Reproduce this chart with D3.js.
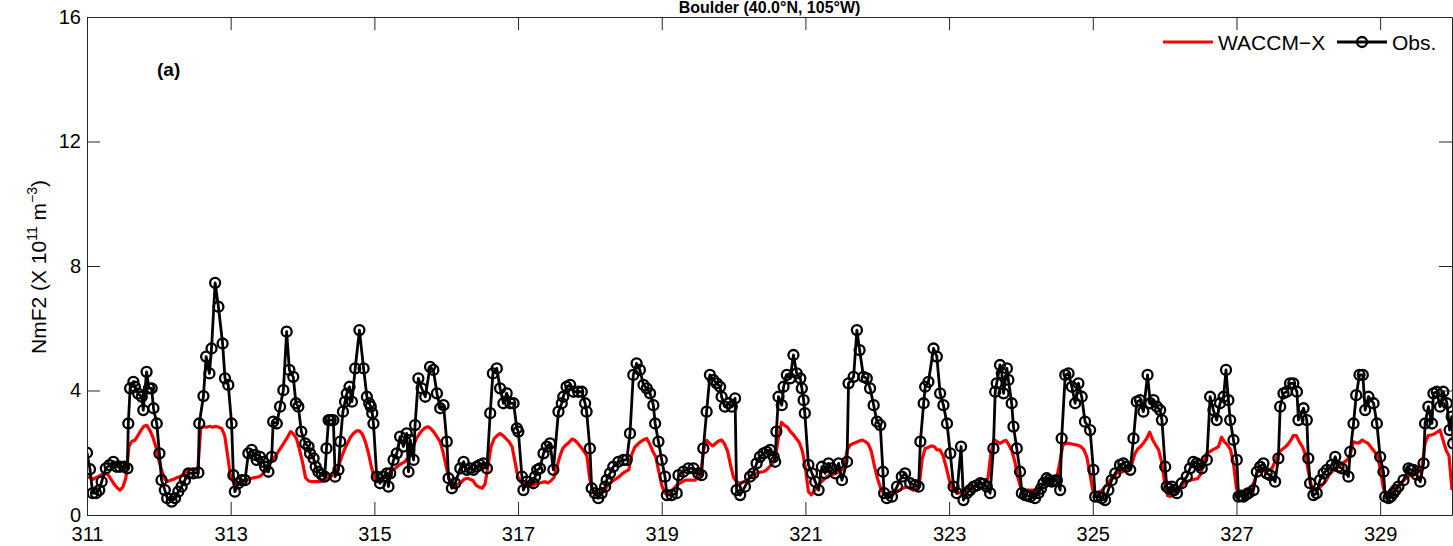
<!DOCTYPE html>
<html><head><meta charset="utf-8">
<script src="https://cdn.jsdelivr.net/npm/d3@7"></script>
<style>
html,body{margin:0;padding:0;background:#fff;}
svg{display:block;}
text{font-family:"Liberation Sans",Arial,Helvetica,sans-serif;}
</style></head><body>
<svg id="chart" width="1453" height="546"></svg>
<script>
// ---------------- DATA ----------------
const chartTitle = "Boulder (40.0°N, 105°W)";
const panelLabel = "(a)";
const seriesNames = ["WACCM\u2212X", "Obs."];
const xDomain = [311, 330];
const yDomain = [0, 16];
const xTicks = [311, 313, 315, 317, 319, 321, 323, 325, 327, 329];
const yTicks = [0, 4, 8, 12, 16];

// WACCM-X NmF2 (x10^11 m^-3), hourly from day 311 00 UT
const modelNmF2 = [
  1.23,1.2,1.15,1.2,1.25,1.3,1.33,1.3,1.15,1.0,0.88,0.8,0.9,1.2,2.2,2.37,2.4,2.55,2.72,2.85,2.88,2.72,2.5,2.2,
  1.75,1.42,1.15,1.08,1.12,1.15,1.2,1.23,1.3,1.38,1.45,1.45,1.45,1.45,2.8,2.84,2.82,2.85,2.82,2.85,2.82,2.78,2.55,1.9,
  1.2,1.05,1.02,1.05,1.08,1.12,1.15,1.18,1.2,1.22,1.25,1.35,1.5,1.65,1.77,1.9,2.05,2.2,2.35,2.5,2.68,2.6,2.45,2.1,
  1.7,1.2,1.1,1.07,1.07,1.07,1.07,1.1,1.15,1.2,1.28,1.33,1.55,1.85,2.1,2.3,2.5,2.62,2.7,2.7,2.6,2.35,2.0,1.55,
  1.2,1.07,1.1,1.2,1.28,1.35,1.45,1.5,1.58,1.65,1.7,1.8,1.9,2.2,2.45,2.6,2.72,2.8,2.84,2.76,2.65,2.5,2.35,2.0,
  1.55,1.15,1.0,0.96,1.0,1.05,1.15,1.18,1.15,1.1,0.95,0.9,0.86,1.0,1.6,2.2,2.45,2.55,2.62,2.55,2.45,2.35,2.2,1.7,
  1.2,1.05,1.0,0.97,0.95,0.95,1.0,1.02,1.05,1.07,1.03,1.1,1.2,1.55,1.9,2.15,2.25,2.33,2.44,2.4,2.3,2.18,2.05,1.9,
  1.12,0.8,0.65,0.6,0.68,0.82,0.95,1.05,1.12,1.18,1.25,1.34,1.4,1.45,1.95,2.18,2.28,2.36,2.42,2.46,2.28,2.05,1.87,1.4,
  0.95,0.7,0.7,0.76,0.85,0.95,1.02,1.07,1.12,1.12,1.12,1.12,1.18,1.3,2.1,2.4,2.3,2.22,2.3,2.38,2.41,2.28,2.05,1.6,
  1.2,1.07,1.02,1.05,1.1,1.16,1.25,1.32,1.36,1.38,1.39,1.45,1.55,1.65,1.87,2.5,2.98,2.88,2.82,2.68,2.58,2.45,2.32,2.05,
  1.5,0.75,0.65,0.78,0.92,1.04,1.13,1.22,1.27,1.3,1.33,1.38,1.45,1.6,2.1,2.25,2.3,2.34,2.38,2.41,2.36,2.28,2.05,1.6,
  1.2,0.9,0.7,0.62,0.6,0.68,0.73,0.78,0.83,0.88,0.9,0.85,0.8,0.86,0.95,1.8,2.14,2.17,2.22,2.2,2.09,2.09,1.9,1.55,
  1.15,0.85,0.75,0.7,0.73,0.78,0.82,0.86,0.91,0.96,1.0,1.02,1.02,1.2,2.0,2.42,2.36,2.3,2.36,2.4,2.25,2.05,1.7,1.2,
  0.85,0.8,0.8,0.8,0.8,0.8,0.82,0.95,1.05,1.1,1.15,1.18,1.22,1.7,2.25,2.3,2.3,2.28,2.26,2.24,2.2,2.1,1.87,1.35,
  0.8,0.7,0.72,0.78,0.9,1.02,1.15,1.25,1.34,1.36,1.39,1.45,1.52,1.62,1.95,2.12,2.2,2.32,2.46,2.66,2.42,2.25,2.09,1.7,
  1.05,0.62,0.6,0.65,0.7,0.85,0.96,1.05,1.1,1.13,1.15,1.17,1.3,1.65,1.98,2.03,2.09,2.14,2.2,2.5,2.35,2.25,2.1,1.65,
  0.85,0.66,0.66,0.7,0.78,0.87,1.1,1.38,1.45,1.42,1.39,1.45,1.52,1.75,1.98,2.09,2.16,2.25,2.38,2.55,2.55,2.35,2.2,1.95,
  1.4,0.95,0.82,0.83,0.9,1.0,1.12,1.3,1.4,1.48,1.55,1.63,1.7,1.77,1.93,2.35,2.32,2.32,2.41,2.35,2.3,2.17,2.05,1.93,
  1.5,0.9,0.62,0.68,0.75,0.85,0.95,1.03,1.12,1.2,1.27,1.28,1.3,1.4,1.55,2.3,2.55,2.57,2.6,2.66,2.73,2.41,2.09,1.9,
  0.8
];

// Observed NmF2: [hours since day 311 00 UT, NmF2 (x10^11 m^-3)]
const obsSamples = [
  [0,2.0],[1.0,1.47],[1.9,0.7],[3.0,0.7],[4.1,0.8],[4.9,1.07],[6.3,1.5],[7.5,1.6],[8.8,1.71],[9.9,1.55],[11,1.55],[12.4,1.55],[13.5,1.5],[13.8,2.94],[14.4,4.07],[15.5,4.28],[16,4.12],[17.1,3.9],[18.3,3.8],[18.8,3.37],[19.9,4.6],[20.7,4.07],[21.6,4.07],[22.2,3.43],[23.3,2.94],
  [24.2,1.98],[24.9,1.12],[26,0.8],[26.8,0.54],[28.3,0.43],[29.4,0.54],[30.5,0.75],[31.6,0.91],[32.7,1.12],[33.9,1.34],[35.5,1.34],[37.2,1.36],[37.5,2.94],[38.9,3.82],[39.8,5.09],[40.9,4.55],[41.6,5.35],[42.8,7.46],[43.9,6.69],[45.3,5.51],[46.1,4.39],[47.2,4.18],
  [48.3,2.94],[48.9,1.28],[49.4,0.75],[50.6,1.02],[51.7,1.12],[52.8,1.12],[53.9,1.98],[55,2.09],[56.1,1.93],[56.7,1.77],[57.8,1.87],[58.9,1.71],[59.5,1.55],[60.6,1.39],[61.7,1.87],[62.2,3.0],[63.4,2.94],[64.5,3.48],[65.6,4.01],[66.7,5.89],[67.6,4.66],[68.9,4.44],[69.8,3.59],[70.6,3.48],[71.6,2.68],
  [72.9,2.3],[74,2.2],[74.5,1.98],[75.7,1.82],[76.4,1.55],[77.3,1.39],[78.4,1.3],[79.4,1.23],[80.0,2.14],[80.7,3.05],[81.4,3.05],[82.3,3.05],[82.9,1.23],[84,1.45],[84.6,2.36],[85.5,3.32],[86.2,3.64],[86.8,3.9],[87.7,4.12],[88.5,3.64],[89.6,4.71],[91,5.94],[92.4,4.71],[93.5,3.8],[94.3,3.59],[94.8,3.48],[95.3,3.27],[95.7,2.94],
  [96.8,1.23],[97.9,1.02],[99,1.23],[100.2,1.34],[100.7,0.91],[101.3,1.34],[102.4,1.77],[103.5,1.98],[104.6,2.52],[105.7,2.2],[106.8,2.62],[107.4,1.39],[108,2.41],[109.1,1.77],[109.6,2.89],[110.7,4.39],[111.8,4.07],[113,3.8],[114.6,4.76],[115.7,4.66],[116.9,3.91],[118,3.43],[119.1,3.53],
  [120.2,2.36],[120.8,1.18],[121.9,0.86],[123,1.02],[124.7,1.5],[125.8,1.71],[126.9,1.45],[128,1.5],[129.1,1.45],[130.2,1.55],[131.3,1.61],[132.4,1.66],[133.6,1.5],[134.7,3.27],[135.6,4.55],[136.9,4.71],[138,4.07],[139.1,3.59],[140.2,3.91],[141.4,3.59],[142.5,3.59],[143.6,2.78],
  [144.1,2.68],[145.3,1.23],[145.8,0.8],[146.9,1.07],[149.1,1.02],[149.7,1.23],[150.4,1.45],[151.3,1.5],[152.5,1.98],[153.6,2.2],[154.7,2.3],[155.8,1.45],[157.5,3.32],[158.6,3.59],[159.1,3.8],[160.2,4.12],[161.4,4.18],[162.5,3.96],[164.1,3.96],[165.3,3.96],[166.4,3.59],[166.9,3.32],
  [168,2.14],[168.6,0.86],[169.7,0.7],[170.8,0.54],[171.9,0.7],[173.1,0.91],[173.6,1.12],[174.7,1.34],[175.8,1.55],[177.5,1.71],[179.2,1.77],[180.3,1.77],[181.4,2.62],[182.5,4.5],[183.6,4.87],[184.7,4.66],[185.9,4.18],[187,4.07],[188.1,3.91],[189.2,3.53],[189.8,2.94],[190.9,2.36],
  [192,1.77],[193.1,1.23],[193.7,0.64],[195.3,0.64],[197,0.7],[197.6,1.28],[199.2,1.39],[200.9,1.5],[202.6,1.5],[204.2,1.34],[205.3,1.28],[205.9,2.14],[207,3.32],[208.1,4.5],[209.2,4.34],[210.4,4.23],[211.5,4.12],[212,3.8],[213.1,3.48],[214.3,3.59],[215.4,3.48],[216.5,3.75],[217,0.8],
  [218.2,0.64],[219.8,0.91],[221.5,1.23],[222.6,1.34],[223.7,1.66],[224.8,1.87],[226,1.98],[227.1,2.03],[228.2,2.09],[229.4,1.87],[229.9,1.71],[230.3,2.68],[231,3.8],[232.1,3.53],[232.7,4.12],[233.8,4.5],[234.9,4.39],[236,5.14],[237.1,4.55],[238.3,4.39],[238.8,4.07],[239.4,3.69],[239.8,3.27],
  [241,1.61],[242.2,1.34],[243.3,1.07],[244.4,0.8],[245.5,1.55],[246.6,1.34],[247.7,1.66],[248.8,1.5],[250,1.34],[251.1,1.66],[252.2,1.12],[253.9,1.71],[254.4,4.23],[256.1,4.44],[257.2,5.94],[258.1,5.3],[259.4,4.44],[260.5,4.39],[261.6,4.07],[262.8,3.53],[263.9,3.0],
  [265,2.89],[265.9,1.39],[266.3,0.7],[267.2,0.54],[268.9,0.59],[270.6,0.91],[272.2,1.23],[273.3,1.34],[275,1.02],[276.7,0.96],[277.8,0.91],[278.4,2.36],[279.5,3.59],[280,4.12],[281.1,4.28],[282.8,5.35],[283.9,5.09],[285,3.91],[286.1,3.53],[287.3,2.94],
  [288.4,1.98],[289.5,0.91],[290.6,0.7],[292,2.2],[292.8,0.48],[293.9,0.7],[295,0.8],[296.2,0.91],[297.3,0.95],[298.4,1.02],[299.5,1.0],[300.6,0.91],[301.7,0.7],[302.8,2.14],[303.4,3.96],[303.9,4.23],[305,4.82],[305.6,4.55],[306.2,3.91],[307.3,4.71],[307.8,4.34],[308.9,3.59],[309.5,2.84],[310.6,2.14],[311.7,1.39],
  [312.3,0.7],[313.4,0.64],[314.2,0.62],[315.1,0.59],[316.7,0.54],[317.8,0.7],[318.7,0.85],[319.5,1.02],[320.6,1.18],[321.4,1.12],[322.3,1.07],[323.2,1.1],[324,1.12],[325.1,0.8],[325.6,2.46],[326.8,4.5],[327.9,4.55],[329,4.12],[330.1,3.59],[331.2,4.23],[332.3,3.8],[333.4,3.0],[335.1,2.73],
  [336.2,1.45],[336.8,0.59],[337.9,0.59],[339,0.54],[340.1,0.48],[341.2,0.8],[342.3,1.12],[343.5,1.34],[345.1,1.61],[346.2,1.66],[347.3,1.55],[348.5,1.45],[349.6,2.46],[350.7,3.64],[351.8,3.69],[352.9,3.32],[354.3,4.5],[355.2,3.59],[356.3,3.69],[357.4,3.48],[358.5,3.37],[359.1,3.05],
  [360.2,1.55],[360.7,0.91],[361.5,0.85],[362.4,0.91],[363.2,0.8],[364.1,0.7],[365.7,1.02],[367.4,1.23],[368.5,1.5],[369.6,1.71],[370.7,1.66],[371.5,1.6],[372.4,1.5],[374.1,1.77],[375.2,3.8],[376.3,3.37],[377.4,3.05],[378.5,3.59],[379.7,3.8],[380.5,4.66],[381.3,3.69],[381.9,3.05],[383,2.41],
  [384.1,1.77],[384.7,0.59],[385.5,0.62],[386.3,0.59],[387.2,0.65],[388,0.7],[389.7,0.8],[390.8,1.39],[391.9,1.55],[393,1.66],[394.1,1.34],[395.2,1.28],[396.9,1.07],[398,1.82],[398.6,3.48],[399.7,3.91],[400.8,3.96],[401.9,4.23],[403,4.23],[404.2,3.96],[404.7,3.05],[406.4,3.43],[407.5,3.05],
  [408,1.82],[408.6,1.02],[409.7,0.64],[410.8,0.7],[411.9,1.12],[413.1,1.34],[414.2,1.45],[415.8,1.61],[417,1.87],[418.1,1.55],[419.2,1.5],[421.4,1.23],[422,2.03],[423.1,2.94],[424,3.85],[425.1,4.5],[426.2,4.5],[427,3.37],[428.1,3.8],[429.8,3.59],[430.9,2.94],
  [432,1.87],[433.1,1.39],[433.7,0.59],[434.8,0.54],[435.6,0.6],[436.4,0.7],[437.2,0.8],[438.1,0.91],[439.8,1.12],[441.5,1.5],[442.3,1.45],[443.1,1.45],[444.2,1.3],[445.4,1.07],[446.5,1.66],[447,2.94],[448.1,3.48],[449.3,2.94],[449.8,3.91],[450.9,3.96],[452,3.48],[453.1,3.96],[454.3,3.59],[455.2,2.73],[455.9,3.16],[456.4,2.3]
];

// ---------------- CHART ----------------
const svg = d3.select("#chart");
const plot = {left: 87, right: 1452, top: 17, bottom: 515};
const axisColor = "#262626";
const fontSize = 20;

const x = d3.scaleLinear().domain(xDomain).range([plot.left, plot.right]);
const y = d3.scaleLinear().domain(yDomain).range([plot.bottom, plot.top]);
const hourToDay = h => xDomain[0] + h / 24;

svg.append("rect").attr("width", 1453).attr("height", 546).attr("fill", "#fff");

svg.append("defs").append("clipPath").attr("id", "clip")
  .append("rect")
  .attr("x", plot.left).attr("y", plot.top)
  .attr("width", plot.right - plot.left).attr("height", plot.bottom - plot.top);

const data = svg.append("g").attr("clip-path", "url(#clip)");

// Model line
data.append("path")
  .datum(modelNmF2)
  .attr("fill", "none")
  .attr("stroke", "#ff0000")
  .attr("stroke-width", 3.2)
  .attr("stroke-linejoin", "round")
  .attr("d", d3.line().x((d, i) => x(hourToDay(i))).y(d => y(d)));

// Obs line + markers
data.append("path")
  .datum(obsSamples)
  .attr("fill", "none")
  .attr("stroke", "#000")
  .attr("stroke-width", 2.8)
  .attr("stroke-linejoin", "round")
  .attr("d", d3.line().x(d => x(hourToDay(d[0]))).y(d => y(d[1])));

data.append("g").selectAll("circle")
  .data(obsSamples)
  .join("circle")
  .attr("cx", d => x(hourToDay(d[0])))
  .attr("cy", d => y(d[1]))
  .attr("r", 5)
  .attr("fill", "none")
  .attr("stroke", "#000")
  .attr("stroke-width", 2.3);

// Axes
function styleAxis(g) {
  g.selectAll(".domain").attr("stroke", axisColor).attr("stroke-width", 1);
  g.selectAll(".tick line").attr("stroke", axisColor).attr("stroke-width", 1);
  g.selectAll(".tick text").attr("fill", "#000").style("font-size", fontSize + "px")
    .style("font-family", '"Liberation Sans", Arial, Helvetica, sans-serif');
}

svg.append("g")
  .attr("transform", `translate(0,${plot.bottom})`)
  .call(d3.axisBottom(x).tickValues(xTicks).tickFormat(d3.format("d"))
    .tickSizeInner(-13).tickSizeOuter(0).tickPadding(12))
  .call(styleAxis);

svg.append("g")
  .attr("transform", `translate(0,${plot.top})`)
  .call(d3.axisTop(x).tickValues(xTicks).tickFormat("")
    .tickSizeInner(-13).tickSizeOuter(0))
  .call(styleAxis);

svg.append("g")
  .attr("transform", `translate(${plot.left},0)`)
  .call(d3.axisLeft(y).tickValues(yTicks).tickFormat(d3.format("d"))
    .tickSizeInner(-13).tickSizeOuter(0).tickPadding(6))
  .call(styleAxis);

svg.append("g")
  .attr("transform", `translate(${plot.right},0)`)
  .call(d3.axisRight(y).tickValues(yTicks).tickFormat("")
    .tickSizeInner(-13).tickSizeOuter(0))
  .call(styleAxis);

// Title (kept fully visible just above the frame)
svg.append("text")
  .attr("x", (plot.left + plot.right) / 2)
  .attr("y", 13)
  .attr("text-anchor", "middle")
  .style("font-size", "16px")
  .style("font-weight", "bold")
  .text(chartTitle);

// Panel label
svg.append("text")
  .attr("x", 157).attr("y", 76)
  .style("font-size", "19px").style("font-weight", "bold")
  .text(panelLabel);

// Y axis label
const yl = svg.append("text")
  .attr("transform", "translate(46,267) rotate(-90)")
  .attr("text-anchor", "middle")
  .style("font-size", "21px");
yl.append("tspan").text("NmF2 (X 10");
yl.append("tspan").attr("dy", -9).style("font-size", "14px").text("11");
yl.append("tspan").attr("dy", 9).text("\u00A0m");
yl.append("tspan").attr("dy", -9).style("font-size", "14px").text("\u22123");
yl.append("tspan").attr("dy", 9).text(")");

// Legend
const lg = svg.append("g");
lg.append("line").attr("x1", 1163).attr("x2", 1213).attr("y1", 42).attr("y2", 42)
  .attr("stroke", "#ff0000").attr("stroke-width", 3.2);
lg.append("text").attr("x", 1218).attr("y", 50).style("font-size", "21px").text(seriesNames[0]);
lg.append("line").attr("x1", 1337).attr("x2", 1387).attr("y1", 42).attr("y2", 42)
  .attr("stroke", "#000").attr("stroke-width", 3);
lg.append("circle").attr("cx", 1362).attr("cy", 42).attr("r", 5)
  .attr("fill", "none").attr("stroke", "#000").attr("stroke-width", 2.3);
lg.append("text").attr("x", 1392).attr("y", 50).style("font-size", "21px").text(seriesNames[1]);
</script>
</body></html>
